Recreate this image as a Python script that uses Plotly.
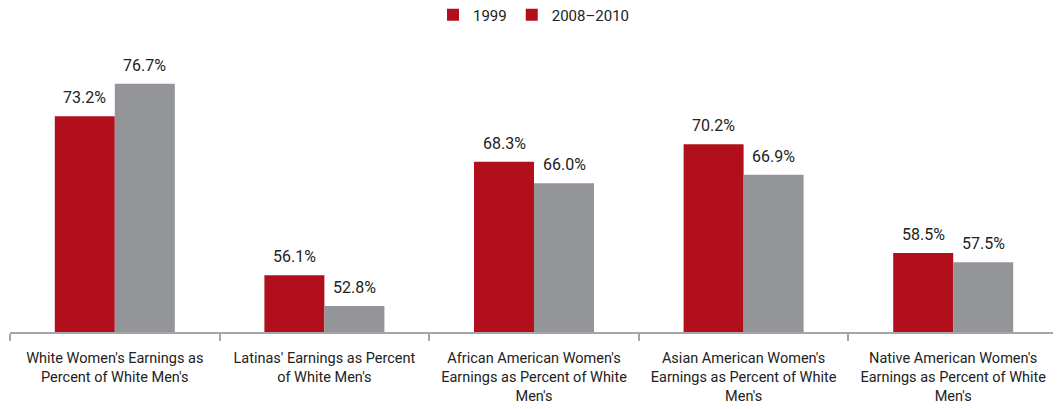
import plotly.graph_objects as go

categories = [
    "White Women's Earnings as<br>Percent of White Men's",
    "Latinas' Earnings as Percent<br>of White Men's",
    "African American Women's<br>Earnings as Percent of White<br>Men's",
    "Asian American Women's<br>Earnings as Percent of White<br>Men's",
    "Native American Women's<br>Earnings as Percent of White<br>Men's",
]
values_1999 = [73.2, 56.1, 68.3, 70.2, 58.5]
values_2008_2010 = [76.7, 52.8, 66.0, 66.9, 57.5]

RED = "#b20f1c"
GRAY = "#939598"
FONT = "Roboto, Liberation Sans, sans-serif"

fig = go.Figure()

fig.add_trace(go.Bar(
    x=categories, y=values_1999, name="1999",
    marker=dict(color=RED, line=dict(width=0)),
    showlegend=False,
))
fig.add_trace(go.Bar(
    x=categories, y=values_2008_2010, name="2008–2010",
    marker=dict(color=GRAY, line=dict(width=0)),
    showlegend=False,
))

# value labels sit a bit higher above the bars than plotly's outside text
for vals, dx in [(values_1999, -30), (values_2008_2010, 30)]:
    for cat, v in zip(categories, vals):
        fig.add_annotation(
            x=cat, y=v, text=f"{v:.1f}%", showarrow=False,
            xshift=dx, yanchor="bottom", yshift=7,
            font=dict(size=16, color="#222222"),
        )

# legend entries (both squares are red in the original)
for name in ["1999", "2008–2010"]:
    fig.add_trace(go.Scatter(
        x=[None], y=[None], mode="markers", name=name,
        marker=dict(symbol="square", color=RED, size=9),
    ))

# page body has an 8px margin, so the figure is 8px smaller each way
fig.update_layout(
    width=1053,
    height=401,
    margin=dict(l=2, r=3, t=32, b=77, autoexpand=False),
    barmode="group",
    bargap=0.4275,
    bargroupgap=0,
    plot_bgcolor="white",
    paper_bgcolor="white",
    font=dict(family=FONT, size=14, color="#222222"),
    legend=dict(
        orientation="h", x=0.5, xanchor="center",
        y=1.0856, yanchor="middle",
        font=dict(size=15), itemsizing="constant", itemwidth=30,
    ),
)

fig.update_xaxes(
    automargin=False,
    showline=True, linecolor="#a6a6a6", linewidth=2,
    ticks="outside", tickson="boundaries", ticklen=7, tickcolor="#a6a6a6", tickwidth=2,
    ticklabelstandoff=12,
    tickfont=dict(size=14.5, color="#222222"),
    showgrid=False,
)
fig.update_yaxes(
    range=[50, 81.4], visible=False, showgrid=False, zeroline=False,
)

fig.write_html("out.html")
